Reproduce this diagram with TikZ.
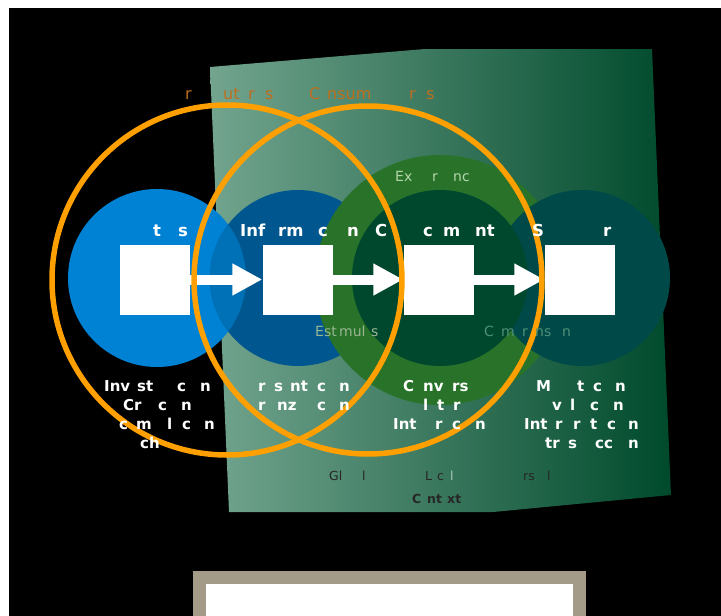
\documentclass[tikz,border=0pt]{standalone}
\usepackage{fontspec}
\setmainfont{DejaVu Sans}
\usetikzlibrary{arrows.meta}

\definecolor{ringorange}{HTML}{FFA000}
\definecolor{labelorange}{HTML}{BF6E1E}
\definecolor{panellight}{HTML}{72A48E}
\definecolor{paneldark}{HTML}{004A2C}
\definecolor{datablue}{HTML}{0082D4}
\definecolor{infoblue}{HTML}{00578F}
\definecolor{lensblue}{HTML}{0071B7}
\definecolor{expgreen}{HTML}{287329}
\definecolor{knowgreen}{HTML}{00482D}
\definecolor{wisteal}{HTML}{004949}
\definecolor{palegreen}{HTML}{B5D5AA}
\definecolor{dimgreen}{HTML}{4F9076}
\definecolor{framegray}{HTML}{A39A88}

\begin{document}
\begin{tikzpicture}[x=1pt,y=-1pt,
  sqbox/.style={fill=white,minimum size=70pt,inner sep=0pt},
  flowarrow/.style={line width=10pt,white,-{Triangle[length=30pt,width=30pt]}},
  ring/.style={line width=5.5pt,draw=ringorange},
  txt/.style={anchor=base west,inner sep=0pt},
  hdtxt/.style={txt,text=white,font=\bfseries\fontsize{16.5}{19}\selectfont},
  lowtxt/.style={txt,text=white,font=\bfseries\fontsize{15}{17}\selectfont},
  ortxt/.style={txt,text=labelorange,font=\fontsize{16}{18}\selectfont},
  softtxt/.style={txt,font=\fontsize{14}{16}\selectfont},
  ctxtxt/.style={txt,text=black!85,font=\fontsize{12.5}{14}\selectfont}]

% Background
\fill[white] (0,0) rectangle (721,616);
\fill[black] (9,8) rectangle (721,616);
\useasboundingbox (0,0) rectangle (721,616);

% Context panel
\shade[left color=panellight,right color=paneldark]
  (210,67) -- (425,49) -- (652,49) -- (671,495) -- (493,512) -- (229,512) -- cycle;

% Circles
\fill[datablue] (157,278) circle[radius=89pt];
\fill[infoblue] (298,278) circle[radius=88pt];
\begin{scope}
  \clip (157,278) circle[radius=89pt];
  \fill[lensblue] (298,278) circle[radius=88pt];
\end{scope}
\fill[expgreen] (440,280) circle[radius=125pt];
\fill[wisteal] (582,278) circle[radius=88pt];
\fill[knowgreen] (440,278) circle[radius=88pt];

% Boxes and flow
\node[sqbox] (dat) at (155,279.5) {};
\node[sqbox] (inf) at (297.5,279.5) {};
\node[sqbox] (con) at (438.5,279.5) {};
\node[sqbox] (sab) at (579.5,279.5) {};
\draw[flowarrow] (dat) -- (inf);
\draw[flowarrow] (inf) -- (con);
\draw[flowarrow] (con) -- (sab);

% Orange rings
\draw[ring] (227,280) circle[radius=175pt];
\draw[ring] (368,280) circle[radius=174pt];

% Ring labels
\foreach \x/\t in {185/r,223/ut,248/r,265/s}
  \node[ortxt] (pro\x) at (\x,99) {\t};
\foreach \x/\t in {309/C,327/nsum,409/r,426/s}
  \node[ortxt] (cns\x) at (\x,99) {\t};

% Circle headers
\foreach \x/\t in {153/t,178/s}
  \node[hdtxt] (hda\x) at (\x,236) {\t};
\foreach \x/\t in {240/Inf,278/rm,318/c,347/n}
  \node[hdtxt] (hdb\x) at (\x,236) {\t};
\foreach \x/\t in {375/C,423/c,443/m,475/nt}
  \node[hdtxt] (hdc\x) at (\x,236) {\t};
\foreach \x/\t in {532/S,603/r}
  \node[hdtxt] (hdd\x) at (\x,236) {\t};

% Inner labels
\foreach \x/\t in {395/Ex,432/r,453/nc}
  \node[softtxt,text=palegreen] (exp\x) at (\x,181) {\t};
\foreach \x/\t in {315/Est,339/mul,371/s}
  \node[softtxt,text=palegreen!85!black] (est\x) at (\x,336) {\t};
\foreach \x/\t in {484/C,501/m,522/r,535/ns,562/n}
  \node[softtxt,text=dimgreen] (cmp\x) at (\x,336) {\t};

% Activities below the circles
\foreach \x/\t in {104/Inv,137/st,177/c,200/n}
  \node[lowtxt] (aa\x) at (\x,391) {\t};
\foreach \x/\t in {123/Cr,158/c,181/n}
  \node[lowtxt] (ab\x) at (\x,410) {\t};
\foreach \x/\t in {119/c,136/m,167/l,182/c,204/n}
  \node[lowtxt] (ac\x) at (\x,429) {\t};
\node[lowtxt] (ad140) at (140,448) {ch};

\foreach \x/\t in {258/r,274/s,290/nt,317/c,339/n}
  \node[lowtxt] (ba\x) at (\x,391) {\t};
\foreach \x/\t in {258/r,277/nz,317/c,339/n}
  \node[lowtxt] (bb\x) at (\x,410) {\t};

\foreach \x/\t in {403/C,423/nv,452/rs}
  \node[lowtxt] (ca\x) at (\x,391) {\t};
\foreach \x/\t in {423/l,437/t,453/r}
  \node[lowtxt] (cb\x) at (\x,410) {\t};
\foreach \x/\t in {393/Int,435/r,452/c,475/n}
  \node[lowtxt] (cc\x) at (\x,429) {\t};

\foreach \x/\t in {536/M,577/t,593/c,615/n}
  \node[lowtxt] (da\x) at (\x,391) {\t};
\foreach \x/\t in {552/v,570/l,590/c,613/n}
  \node[lowtxt] (db\x) at (\x,410) {\t};
\foreach \x/\t in {524/Int,555/r,573/r,590/t,607/c,628/n}
  \node[lowtxt] (dc\x) at (\x,429) {\t};
\foreach \x/\t in {545/tr,568/s,595/cc,628/n}
  \node[lowtxt] (dd\x) at (\x,448) {\t};

% Context scale
\foreach \x/\t in {329/Gl,362/l,425/L,437/c,523/rs,547/l}
  \node[ctxtxt] (sc\x) at (\x,480) {\t};
\node[ctxtxt,text=panellight!60!white] (sc450) at (450,480) {l};
\foreach \x/\t in {412/C,427/nt,447/xt}
  \node[ctxtxt,font=\bfseries\fontsize{12.5}{14}\selectfont] (ctx\x) at (\x,503) {\t};

% Bottom frame
\fill[framegray] (193,571) rectangle (586,616);
\fill[white] (206,584) rectangle (573,616);

\end{tikzpicture}
\end{document}
